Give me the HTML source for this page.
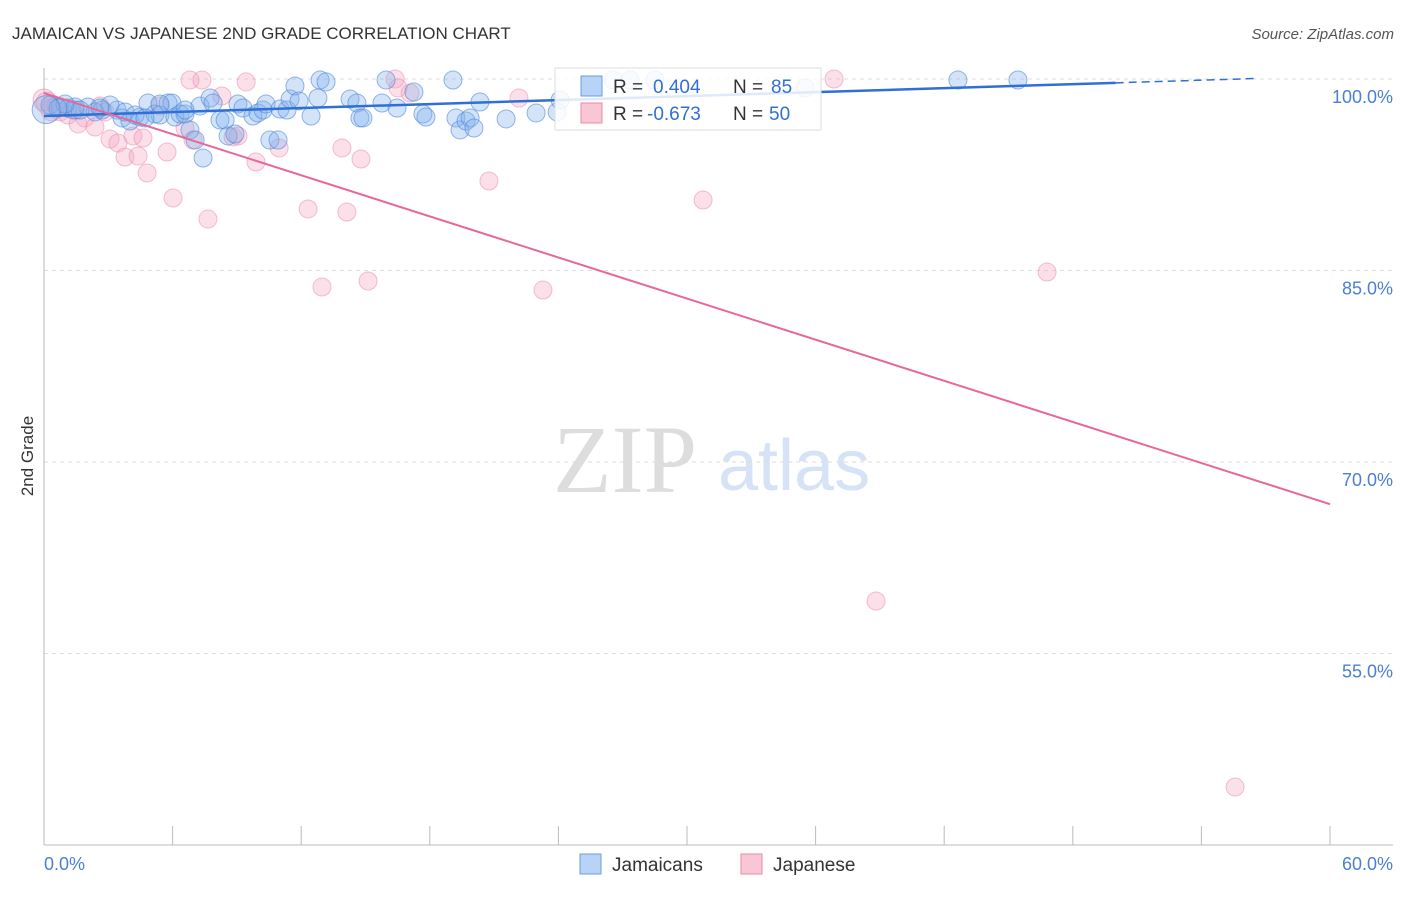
<!DOCTYPE html>
<html><head><meta charset="utf-8"><style>
body{margin:0;background:#fff;font-family:"Liberation Sans",sans-serif;}
</style></head><body>
<svg width="1406" height="892" xmlns="http://www.w3.org/2000/svg" id="chart">
<text x="12" y="39" font-size="17" fill="#333">JAMAICAN VS JAPANESE 2ND GRADE CORRELATION CHART</text>
<text x="1394" y="39" font-size="15" fill="#555" text-anchor="end" font-style="italic">Source: ZipAtlas.com</text>
<text x="33" y="456" font-size="17" fill="#333" text-anchor="middle" transform="rotate(-90 33 456)">2nd Grade</text>
<g>
<text x="553" y="492" font-size="96" font-family="Liberation Serif,serif" fill="#ddd">ZIP</text>
<text x="718" y="490" font-size="72" fill="#d6e3f6">atlas</text>
</g>
<g id="grid"></g><g id="axes"></g><g id="pts"></g><g id="lines"></g>
<g>
<rect x="555" y="68" width="266" height="62" fill="#fff" fill-opacity="0.85" stroke="#ddd"/>
<rect x="581" y="76" width="21" height="20" fill="#b8d3f5" stroke="#6a9ee0"/>
<text x="613" y="93" font-size="19" fill="#333">R =</text>
<text x="653" y="93" font-size="19" fill="#2f6fd6">0.404</text>
<text x="733" y="93" font-size="19" fill="#333">N =</text>
<text x="771" y="93" font-size="19" fill="#2f6fd6">85</text>
<rect x="581" y="103" width="21" height="20" fill="#f9c6d6" stroke="#e88aa8"/>
<text x="613" y="120" font-size="19" fill="#333">R =</text>
<text x="647" y="120" font-size="19" fill="#2f6fd6">-0.673</text>
<text x="733" y="120" font-size="19" fill="#333">N =</text>
<text x="769" y="120" font-size="19" fill="#2f6fd6">50</text>
</g>
<g>
<rect x="580" y="854" width="21" height="20" fill="#b8d3f5" stroke="#6a9ee0"/>
<text x="612" y="871" font-size="19" fill="#333">Jamaicans</text>
<rect x="741" y="854" width="21" height="20" fill="#f9c6d6" stroke="#e88aa8"/>
<text x="773" y="871" font-size="19" fill="#333">Japanese</text>
</g>
</svg>
<script>
const yTicks=[100,85,70,55];
const xTickLabels=["0.0%","60.0%"];
const blueX=[0.28,0.75,1.12,1.45,2.05,2.38,2.71,3.41,3.64,4.01,4.48,4.85,5.18,5.41,5.79,5.97,6.11,6.35,6.58,6.81,7.05,7.28,7.42,7.75,7.89,8.21,8.45,8.59,8.91,9.05,9.28,9.75,9.98,10.22,10.36,10.54,10.92,11.01,11.34,11.48,11.71,11.90,12.46,12.78,12.88,13.16,14.28,14.60,14.74,14.88,15.77,15.96,16.47,17.26,17.68,17.82,19.08,19.22,19.41,19.69,19.88,20.06,20.34,21.56,22.96,23.94,24.08,26.55,27.34,28.51,35.51,42.64,45.44,1.45,3.08,1.68,0.98,0.65,2.61,3.78,4.25,4.71,5.41,6.58,0.1];
const blueY=[97.96,97.81,97.73,97.57,97.81,97.42,97.57,97.57,96.95,96.71,97.02,98.12,97.26,97.18,98.12,98.12,97.02,97.26,97.26,96.01,95.22,97.89,93.81,98.51,98.12,96.79,96.79,95.54,95.69,98.04,97.73,97.10,97.34,97.57,98.04,95.22,95.22,97.65,97.57,98.43,99.45,98.28,97.10,98.51,99.92,99.77,98.43,98.12,96.95,96.95,98.12,99.92,97.73,98.98,97.26,97.02,99.92,96.95,96.01,96.71,96.95,96.16,98.20,96.87,97.34,97.42,98.36,99.92,99.92,99.92,99.30,99.92,99.92,97.81,97.96,97.57,98.04,97.73,97.73,97.42,97.18,96.95,98.04,97.57,97.6];
const pinkX=[0,0.14,0.37,0.56,0.75,1.12,1.31,1.59,1.91,2.38,2.61,2.85,3.08,3.45,3.78,4.15,4.39,4.62,4.81,5.41,5.74,6.02,6.58,6.81,6.95,7.37,7.65,8.30,8.82,9.05,9.43,9.89,10.97,12.32,12.97,13.90,14.13,14.79,15.12,16.38,16.52,17.08,20.76,22.16,23.28,30.75,36.86,46.80,38.82,55.57];
const pinkY=[98.36,98.12,97.57,97.89,97.42,97.18,97.57,96.48,96.95,96.24,97.89,97.42,95.30,94.99,93.89,95.54,93.97,95.38,92.64,97.89,94.28,90.68,96.16,99.92,95.22,99.92,89.03,98.67,95.46,95.54,99.77,93.50,94.60,89.82,83.71,94.60,89.58,93.73,84.18,100,99.30,98.90,92.01,98.51,83.47,90.52,100,84.88,59.11,44.54];
const blueFit=[97.1,99.7];
const pinkFit=[98.9,66.7];
const NS="http://www.w3.org/2000/svg";
const X=v=>44+v*(1330-44)/60;
const Y=v=>79+(100-v)*12.767;
function mk(tag,attrs,parent){const e=document.createElementNS(NS,tag);for(const k in attrs)e.setAttribute(k,attrs[k]);document.getElementById(parent).appendChild(e);return e;}
yTicks.forEach(t=>{
 const l=mk('line',{x1:44,x2:1393,y1:Y(t),y2:Y(t),stroke:'#ddd','stroke-dasharray':'4,4'},'grid');
 
 
 const tx=mk('text',{x:1393,y:Y(t)+24,'font-size':18,fill:'#4a7fd4','text-anchor':'end'},'grid');
 tx.textContent=t.toFixed(1)+'%';
 
 
});
let a=mk('line',{x1:44,x2:44,y1:68,y2:845,stroke:'#bbb'},'axes');


a=mk('line',{x1:44,x2:1393,y1:845,y2:845,stroke:'#bbb'},'axes');


for(let i=0;i<=10;i++){const t=mk('line',{x1:X(i*6),x2:X(i*6),y1:826,y2:845,stroke:'#bbb'},'axes');
 
 }
[[0,'start',44],[60,'end',1393]].forEach((d,i)=>{const t=mk('text',{x:d[2],y:870,'font-size':18,fill:'#4a7fd4','text-anchor':d[1]},'axes');t.textContent=xTickLabels[i];
 
 });
pinkX.forEach((x,i)=>{const c=mk('circle',{cx:X(x),cy:Y(pinkY[i]),r:i<3?11:9,fill:'rgba(244,165,192,0.35)',stroke:'rgba(235,140,172,0.55)','stroke-width':1},'pts');
 
 });
blueX.forEach((x,i)=>{const c=mk('circle',{cx:X(x),cy:Y(blueY[i]),r:i==blueX.length-1?14:9,fill:'rgba(130,178,238,0.35)',stroke:'rgba(80,135,215,0.6)','stroke-width':1},'pts');
 
 });
let ln=mk('line',{x1:X(0),y1:Y(blueFit[0]),x2:X(50),y2:Y(blueFit[1]),stroke:'#2f6fd6','stroke-width':2.5},'lines');


const sl=(blueFit[1]-blueFit[0])/50;
ln=mk('line',{x1:X(50),y1:Y(blueFit[1]),x2:X(56.5),y2:Y(blueFit[1]+sl*6.5),stroke:'#2f6fd6','stroke-width':1.5,'stroke-dasharray':'8,5'},'lines');


ln=mk('line',{x1:X(0),y1:Y(pinkFit[0]),x2:X(60),y2:Y(pinkFit[1]),stroke:'#e8679a','stroke-width':2},'lines');


</script>
</body></html>
